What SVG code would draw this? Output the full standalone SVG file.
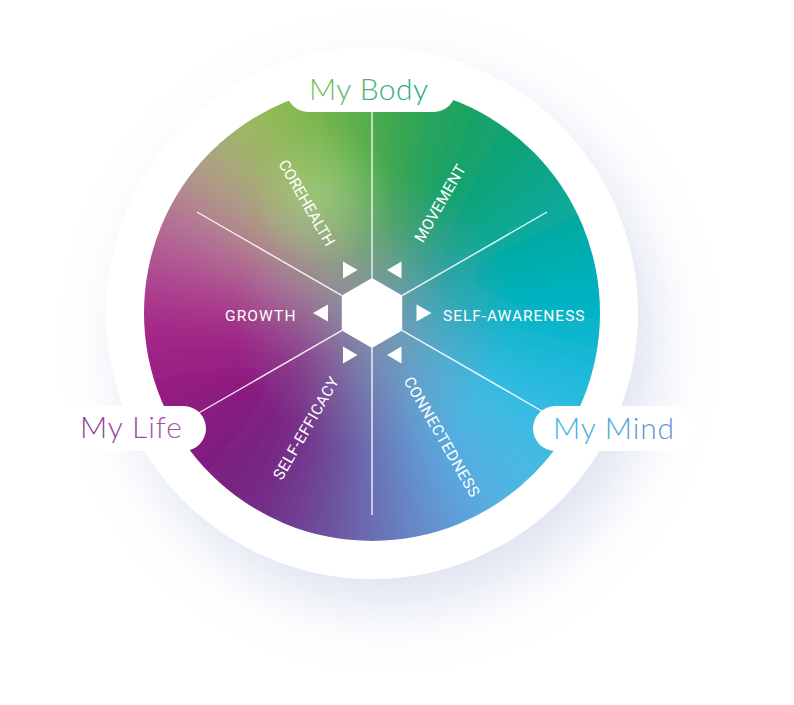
<svg xmlns="http://www.w3.org/2000/svg" xmlns:xlink="http://www.w3.org/1999/xlink" width="794" height="705" viewBox="0 0 794 705">
<defs>
<style>
.seg{font-family:Roboto,"Liberation Sans",sans-serif;font-size:15.5px;fill:#ffffff;letter-spacing:0.5px}
.pill{fill:#ffffff}
.ptxt{font-family:Lato,"Noto Sans",sans-serif;font-weight:300;font-size:30px}
.conn{stroke:#ffffff;stroke-width:1.4;stroke-opacity:0.9;fill:none}
.arr{fill:#ffffff}
</style>
<filter id="sh" x="-30%" y="-30%" width="170%" height="170%">
<feGaussianBlur in="SourceAlpha" stdDeviation="30"/>
<feOffset dx="18" dy="28" result="b"/>
<feFlood flood-color="#a9b8d8" flood-opacity="0.4"/>
<feComposite in2="b" operator="in"/>
<feMerge><feMergeNode/><feMergeNode in="SourceGraphic"/></feMerge>
</filter>
<filter id="bl" x="-20%" y="-20%" width="140%" height="140%">
<feGaussianBlur stdDeviation="32"/>
</filter>
<clipPath id="wc"><circle cx="372" cy="313" r="228"/></clipPath>
<path id="w" d="M0 0 L-32.6 -338.4 L32.6 -338.4 Z"/>
<radialGradient id="gCenter" cx="372" cy="313" r="228" gradientUnits="userSpaceOnUse">
<stop offset="0" stop-color="#8792aa" stop-opacity="0.7"/>
<stop offset="0.3" stop-color="#8792aa" stop-opacity="0.35"/>
<stop offset="0.62" stop-color="#8792aa" stop-opacity="0"/>
</radialGradient>
<radialGradient id="gGlow" cx="322" cy="195" r="70" gradientUnits="userSpaceOnUse">
<stop offset="0" stop-color="#b4e0a8" stop-opacity="0.35"/>
<stop offset="1" stop-color="#b4e0a8" stop-opacity="0"/>
</radialGradient>
<linearGradient id="gBody" x1="0" y1="0" x2="1" y2="0"><stop offset="0" stop-color="#74c155"/><stop offset="1" stop-color="#14a886"/></linearGradient>
<linearGradient id="gLife" x1="0" y1="0" x2="1" y2="0"><stop offset="0" stop-color="#8a3a92"/><stop offset="1" stop-color="#a45ba9"/></linearGradient>
<linearGradient id="gMind" x1="0" y1="0" x2="1" y2="0"><stop offset="0" stop-color="#38b7e4"/><stop offset="1" stop-color="#6a8fd0"/></linearGradient>
</defs>
<rect width="794" height="705" fill="#ffffff"/>
<g id="outer-ring">
<circle cx="372" cy="313" r="266" fill="#ffffff" filter="url(#sh)"/>
</g>
<g id="wheel" clip-path="url(#wc)">
<g filter="url(#bl)">
<g transform="translate(372 313)">
<use xlink:href="#w" transform="rotate(0)" fill="#48aa4a"/>
<use xlink:href="#w" transform="rotate(10)" fill="#32a652"/>
<use xlink:href="#w" transform="rotate(20)" fill="#1ea25a"/>
<use xlink:href="#w" transform="rotate(30)" fill="#17a268"/>
<use xlink:href="#w" transform="rotate(40)" fill="#11a375"/>
<use xlink:href="#w" transform="rotate(50)" fill="#0ca585"/>
<use xlink:href="#w" transform="rotate(60)" fill="#08a896"/>
<use xlink:href="#w" transform="rotate(70)" fill="#05aca8"/>
<use xlink:href="#w" transform="rotate(80)" fill="#04b0b7"/>
<use xlink:href="#w" transform="rotate(90)" fill="#02b4c6"/>
<use xlink:href="#w" transform="rotate(100)" fill="#11b7d2"/>
<use xlink:href="#w" transform="rotate(110)" fill="#20bade"/>
<use xlink:href="#w" transform="rotate(120)" fill="#30bbe1"/>
<use xlink:href="#w" transform="rotate(130)" fill="#40bce4"/>
<use xlink:href="#w" transform="rotate(140)" fill="#4db7e5"/>
<use xlink:href="#w" transform="rotate(150)" fill="#56ade2"/>
<use xlink:href="#w" transform="rotate(160)" fill="#5f9cd7"/>
<use xlink:href="#w" transform="rotate(170)" fill="#6a84c4"/>
<use xlink:href="#w" transform="rotate(180)" fill="#6a6cb1"/>
<use xlink:href="#w" transform="rotate(190)" fill="#6c54a0"/>
<use xlink:href="#w" transform="rotate(200)" fill="#703a90"/>
<use xlink:href="#w" transform="rotate(210)" fill="#742a86"/>
<use xlink:href="#w" transform="rotate(220)" fill="#782482"/>
<use xlink:href="#w" transform="rotate(230)" fill="#7f1f80"/>
<use xlink:href="#w" transform="rotate(240)" fill="#8a1e80"/>
<use xlink:href="#w" transform="rotate(250)" fill="#951c80"/>
<use xlink:href="#w" transform="rotate(260)" fill="#9e2285"/>
<use xlink:href="#w" transform="rotate(270)" fill="#a8288a"/>
<use xlink:href="#w" transform="rotate(280)" fill="#ae4491"/>
<use xlink:href="#w" transform="rotate(290)" fill="#b56098"/>
<use xlink:href="#w" transform="rotate(300)" fill="#b47d93"/>
<use xlink:href="#w" transform="rotate(310)" fill="#b09c88"/>
<use xlink:href="#w" transform="rotate(320)" fill="#a5b072"/>
<use xlink:href="#w" transform="rotate(330)" fill="#98bc58"/>
<use xlink:href="#w" transform="rotate(340)" fill="#86bb50"/>
<use xlink:href="#w" transform="rotate(350)" fill="#68b34b"/>
</g>
</g>
<circle cx="372" cy="313" r="228" fill="url(#gCenter)"/>
<circle cx="322" cy="195" r="70" fill="url(#gGlow)"/>
</g>
<g id="connectors">
<line class="conn" x1="372" y1="279" x2="372" y2="111"/>
<line class="conn" x1="342" y1="295.7" x2="197" y2="212"/>
<line class="conn" x1="402" y1="295.7" x2="547" y2="212"/>
<line class="conn" x1="342" y1="330.3" x2="197" y2="414"/>
<line class="conn" x1="402" y1="330.3" x2="547" y2="414"/>
<line class="conn" x1="372" y1="347" x2="372" y2="515"/>
</g>
<g id="arrows">
<polygon class="arr" points="343,261.5 343,278.5 357.5,270"/>
<polygon class="arr" points="401.5,261.5 401.5,278.5 387,270"/>
<polygon class="arr" points="328,304.5 328,321.5 313,313"/>
<polygon class="arr" points="416.5,304.5 416.5,321.5 431.5,313"/>
<polygon class="arr" points="343,346.5 343,363.5 357.5,355"/>
<polygon class="arr" points="401.5,346.5 401.5,363.5 387,355"/>
</g>
<g id="hub">
<polygon points="372,281 399.7,297 399.7,329 372,345 344.3,329 344.3,297" fill="#ffffff" stroke="#ffffff" stroke-width="5" stroke-linejoin="round"/>
</g>
<g id="seg-corehealth"><text class="seg" transform="translate(307 203) rotate(60)" x="0" y="5.5" text-anchor="middle" textLength="97" lengthAdjust="spacing">COREHEALTH</text></g>
<g id="seg-movement"><text class="seg" transform="translate(440 203) rotate(-60)" x="0" y="5.5" text-anchor="middle" textLength="87" lengthAdjust="spacing">MOVEMENT</text></g>
<g id="seg-growth"><text class="seg" x="225" y="320.5" textLength="71" lengthAdjust="spacing">GROWTH</text></g>
<g id="seg-selfawareness"><text class="seg" x="443" y="320.5" textLength="142" lengthAdjust="spacing">SELF-AWARENESS</text></g>
<g id="seg-selfefficacy"><text class="seg" transform="translate(306 428) rotate(-60)" x="0" y="5.5" text-anchor="middle" textLength="116" lengthAdjust="spacing">SELF-EFFICACY</text></g>
<g id="seg-connectedness"><text class="seg" transform="translate(442 437) rotate(60)" x="0" y="5.5" text-anchor="middle" textLength="136" lengthAdjust="spacing">CONNECTEDNESS</text></g>
<g id="label-body">
<rect class="pill" x="286" y="67" width="170" height="45" rx="22.5"/>
<text class="ptxt" x="309" y="100" fill="url(#gBody)" textLength="119" lengthAdjust="spacing">My Body</text>
</g>
<g id="label-life">
<rect class="pill" x="56" y="406" width="150" height="45" rx="22.5"/>
<text class="ptxt" x="80" y="438" fill="url(#gLife)" textLength="102" lengthAdjust="spacing">My Life</text>
</g>
<g id="label-mind">
<rect class="pill" x="533" y="406" width="162" height="45" rx="22.5"/>
<text class="ptxt" x="553" y="439" fill="url(#gMind)" textLength="121" lengthAdjust="spacing">My Mind</text>
</g>
</svg>
